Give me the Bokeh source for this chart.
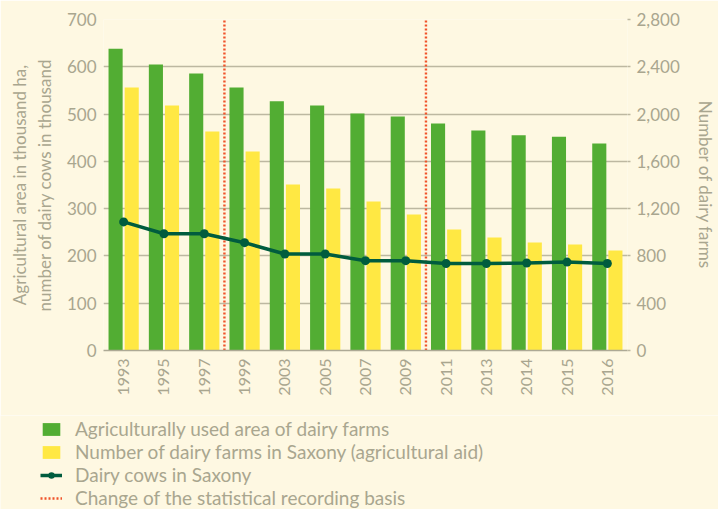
import math
from bokeh.plotting import figure
from bokeh.layouts import column
from bokeh.models import (Range1d, LinearAxis, FixedTicker, NumeralTickFormatter,
                          Legend, LegendItem, ColumnDataSource)
from bokeh.transform import dodge
from bokeh.embed import file_html
from bokeh.resources import INLINE

# ---- data ----
years = ["1993", "1995", "1997", "1999", "2003", "2005", "2007", "2009",
         "2011", "2013", "2014", "2015", "2016"]
area_thousand_ha = [638, 605, 586, 556, 527, 518, 501, 495, 480, 465, 455, 452, 438]
dairy_farms = [2224, 2072, 1852, 1683, 1404, 1370, 1260, 1150, 1023, 956, 913, 897, 846]
dairy_cows_thousand = [272, 247, 247, 228, 204, 204, 190, 190, 184, 184, 185, 187, 184]
recording_change_after = ["1997", "2009"]
left_ticks = [0, 100, 200, 300, 400, 500, 600, 700]
right_ticks = [0, 400, 800, 1200, 1600, 2000, 2400, 2800]

BG = "#FEF8E2"
TXT = "#A9A68F"
GRID = "#BDB8A1"
GREEN = "#52AD33"
YELLOW = "#FFE843"
DARK = "#005C3E"
RED = "#F0532A"
FONT = "Lato"

idx = list(range(len(years)))
src = ColumnDataSource(dict(x=idx, area=area_thousand_ha, farms=dairy_farms,
                            cows=dairy_cows_thousand))

fig = figure(width=718, height=415, output_backend="svg", toolbar_location=None,
             x_range=Range1d(-0.5, len(years) - 0.5),
             y_range=Range1d(left_ticks[0], left_ticks[-1]),
             min_border_left=103, min_border_right=85, min_border_top=19,
             min_border_bottom=65)
fig.frame_align = False
fig.extra_y_ranges = {"farms": Range1d(right_ticks[0], right_ticks[-1])}
fig.background_fill_color = BG
fig.border_fill_color = BG
fig.outline_line_color = None
fig.xgrid.grid_line_color = None
fig.ygrid.ticker = FixedTicker(ticks=left_ticks)
fig.ygrid.grid_line_color = GRID
fig.ygrid.grid_line_width = 1.3

fig.vbar(x=dodge("x", -0.2), top="area", width=0.35, source=src,
         fill_color=GREEN, line_color=None)
fig.vbar(x=dodge("x", 0.2), top="farms", width=0.35, source=src,
         fill_color=YELLOW, line_color=None, y_range_name="farms")

chg_x = [years.index(y) + 0.5 for y in recording_change_after]
fig.segment(x0=chg_x, x1=chg_x, y0=[left_ticks[0]] * len(chg_x),
            y1=[left_ticks[-1]] * len(chg_x), line_color=RED,
            line_width=2.4, line_dash="2 2")

fig.line(x="x", y="cows", source=src, line_color=DARK, line_width=3.5)
fig.scatter(x="x", y="cows", source=src, size=9, fill_color=DARK, line_color=None)

# axes
yl = fig.yaxis[0]
yl.ticker = FixedTicker(ticks=left_ticks)
yl.axis_line_color = None
yl.major_tick_line_color = None
yl.major_tick_out = 0
yl.minor_tick_line_color = None
yl.major_label_standoff = 7
yl.axis_label = "Agricultural area in thousand ha,\nnumber of dairy cows in thousand"
yl.axis_label_standoff = 9

yr = LinearAxis(y_range_name="farms", ticker=FixedTicker(ticks=right_ticks),
                formatter=NumeralTickFormatter(format="0,0"),
                axis_label="Number of dairy farms")
yr.axis_line_color = None
yr.major_tick_line_color = GRID
yr.major_tick_line_width = 1.3
yr.major_tick_in = 0
yr.major_tick_out = 3
yr.minor_tick_line_color = None
yr.major_label_standoff = 6
yr.axis_label_standoff = 12
fig.add_layout(yr, "right")

xa = fig.xaxis[0]
xa.ticker = FixedTicker(ticks=idx)
xa.major_label_overrides = {i: y for i, y in zip(idx, years)}
xa.major_label_orientation = math.pi / 2
xa.axis_line_color = "#ADA995"
xa.axis_line_width = 1.5
xa.major_tick_line_color = None
xa.major_tick_out = 0
xa.major_tick_in = 0
xa.minor_tick_line_color = None
xa.major_label_standoff = 8

for ax in (xa, yl, yr):
    ax.major_label_text_color = TXT
    ax.major_label_text_font = FONT
    ax.axis_label_text_color = TXT
    ax.axis_label_text_font = FONT
    ax.axis_label_text_font_style = "normal"
    ax.axis_label_text_font_size = "17px"
xa.major_label_text_font_size = "16px"
yl.major_label_text_font_size = "17px"
yr.major_label_text_font_size = "17px"

# ---- legend panel below the chart (key swatches only, no data drawn) ----
leg = figure(width=718, height=94, output_backend="svg", toolbar_location=None,
             x_range=Range1d(0, 1), y_range=Range1d(0, 1),
             x_axis_location=None, y_axis_location=None,
             min_border_left=0, min_border_right=0, min_border_top=0,
             min_border_bottom=0)
leg.frame_align = False
leg.background_fill_color = BG
leg.border_fill_color = BG
leg.outline_line_color = None
leg.xgrid.grid_line_color = None
leg.ygrid.grid_line_color = None
nan = [float("nan")]
l_area = leg.vbar(x=nan, top=nan, width=0.1, fill_color=GREEN, line_color=None)
l_farms = leg.vbar(x=nan, top=nan, width=0.1, fill_color=YELLOW, line_color=None)
l_line = leg.line(x=nan, y=nan, line_color=DARK, line_width=3.5)
l_pts = leg.scatter(x=nan, y=nan, size=9, fill_color=DARK, line_color=None)
l_chg = leg.segment(x0=nan, x1=nan, y0=nan, y1=nan, line_color=RED,
                    line_width=2.4, line_dash="2 2")

legend = Legend(items=[
    LegendItem(label="Agriculturally used area of dairy farms", renderers=[l_area]),
    LegendItem(label="Number of dairy farms in Saxony (agricultural aid)", renderers=[l_farms]),
    LegendItem(label="Dairy cows in Saxony", renderers=[l_line, l_pts]),
    LegendItem(label="Change of the statistical recording basis", renderers=[l_chg]),
], location=(40, 0))
legend.background_fill_alpha = 0
legend.border_line_alpha = 0
legend.padding = 0
legend.margin = 0
legend.spacing = 0
legend.label_height = 23
legend.glyph_height = 16
legend.glyph_width = 22
legend.label_standoff = 13
legend.label_text_font = FONT
legend.label_text_font_size = "19px"
legend.label_text_color = TXT
leg.add_layout(legend)

p = column(fig, leg, spacing=0)

html = file_html(p, INLINE)
html = html.replace("<body>", '<body style="background:%s">' % BG, 1)
open("out.html", "w").write(html)
